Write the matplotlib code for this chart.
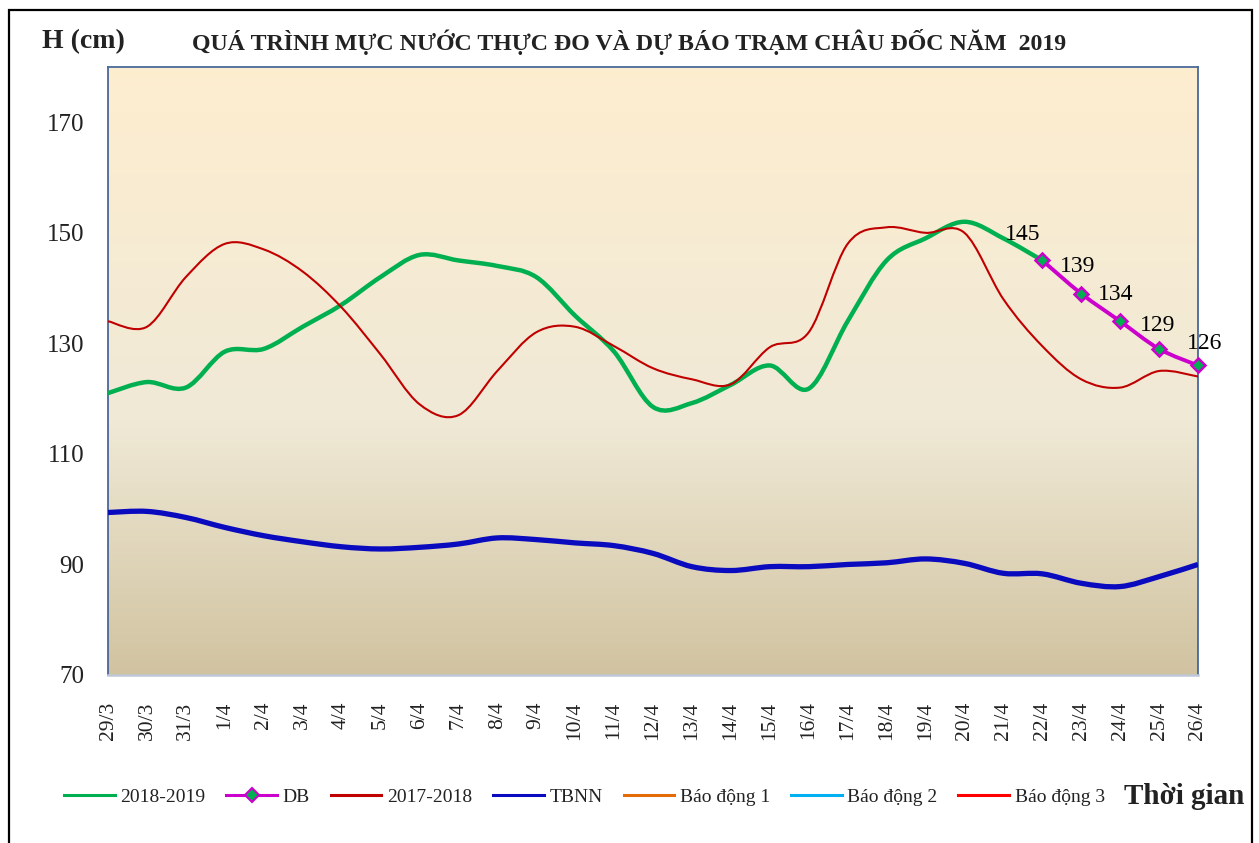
import numpy as np
import matplotlib
matplotlib.use("Agg")
import matplotlib.pyplot as plt
from matplotlib.path import Path
from matplotlib.patches import PathPatch, Rectangle
from matplotlib.lines import Line2D
from matplotlib.colors import LinearSegmentedColormap

plt.rcParams['font.family'] = ['Liberation Serif', 'DejaVu Serif']

# ---------------- data ----------------
dates = ["29/3", "30/3", "31/3", "1/4", "2/4", "3/4", "4/4", "5/4", "6/4", "7/4",
         "8/4", "9/4", "10/4", "11/4", "12/4", "13/4", "14/4", "15/4", "16/4", "17/4",
         "18/4", "19/4", "20/4", "21/4", "22/4", "23/4", "24/4", "25/4", "26/4"]

h_2018_2019 = [121, 123, 122, 128.5, 129, 133, 137, 142, 146, 145,
               144, 142, 135, 128.5, 118.5, 119.2, 122.5, 126, 121.8, 134,
               145, 149, 152, 149, 145]

db_dates = ["22/4", "23/4", "24/4", "25/4", "26/4"]
db_values = [145, 139, 134, 129, 126]

h_2017_2018 = [134, 133, 142, 148, 147, 143, 136.5, 128, 119, 117,
               125, 132, 133, 129.5, 125.5, 123.5, 122.6, 129.3, 132, 148,
               151, 150, 150, 138, 129.5, 123.5, 122, 125, 124]

tbnn = [99.4, 99.6, 98.5, 96.7, 95.2, 94.1, 93.2, 92.8, 93.1, 93.7,
        94.8, 94.5, 93.9, 93.4, 92, 89.6, 88.9, 89.6, 89.6, 90,
        90.3, 91, 90.2, 88.4, 88.3, 86.6, 86, 87.8, 90]

bao_dong_1 = 350
bao_dong_2 = 400
bao_dong_3 = 450

title = "QUÁ TRÌNH MỰC NƯỚC THỰC ĐO VÀ DỰ BÁO TRẠM CHÂU ĐỐC NĂM  2019"

# ---------------- helpers ----------------
def smooth_path(xs, ys):
    """Excel-style smoothed line as cubic Bezier path (library draws the curve)."""
    pts = np.column_stack([xs, ys]).astype(float)
    n = len(pts)
    verts = [pts[0]]
    codes = [Path.MOVETO]
    for i in range(n - 1):
        p0 = pts[i - 1] if i > 0 else pts[i]
        p1 = pts[i]
        p2 = pts[i + 1]
        p3 = pts[i + 2] if i + 2 < n else pts[i + 1]
        c1 = p1 + (p2 - p0) / 6.0
        c2 = p2 - (p3 - p1) / 6.0
        verts += [c1, c2, p2]
        codes += [Path.CURVE4] * 3
    return Path(verts, codes)

# ---------------- figure ----------------
W, H = 1259, 843
fig = plt.figure(figsize=(W / 100, H / 100), dpi=100)
fig.patch.set_facecolor('white')

# outer frame
fig.patches.append(Rectangle((9 / W, -0.02), (1252 - 9) / W, 1.02 - 10 / H,
                             transform=fig.transFigure, fill=False,
                             edgecolor='black', linewidth=1.6, zorder=0))

ax = fig.add_axes([108 / W, 1 - 675 / H, (1198 - 108) / W, (675 - 67) / H])

# background gradient
cmap = LinearSegmentedColormap.from_list(
    "bg", [(0.0, (0.82, 0.765, 0.63)), (0.42, (0.94, 0.915, 0.84)),
           (1.0, (0.995, 0.93, 0.815))])
grad = np.linspace(0, 1, 256).reshape(-1, 1)
ax.imshow(grad, extent=[0, 1, 0, 1], transform=ax.transAxes, origin='lower',
          aspect='auto', cmap=cmap, zorder=0)

x_all = np.arange(len(dates))
x_db = np.array([dates.index(d) for d in db_dates])

green = '#00B050'
magenta = '#CC00CC'
dred = '#C00000'
blue = '#0A0ABE'

ax.add_patch(PathPatch(smooth_path(x_all[:len(h_2018_2019)], h_2018_2019),
                       fill=False, edgecolor=green, linewidth=3.2,
                       capstyle='round', joinstyle='round', zorder=3))
ax.add_patch(PathPatch(smooth_path(x_db, db_values), fill=False,
                       edgecolor=magenta, linewidth=2.8, zorder=4))
ax.plot(x_db, db_values, linestyle='none', marker='D', markersize=7.5,
        markerfacecolor=green, markeredgecolor=magenta, markeredgewidth=1.8,
        zorder=5, clip_on=False)
ax.add_patch(PathPatch(smooth_path(x_all, h_2017_2018), fill=False,
                       edgecolor=dred, linewidth=1.5, zorder=4))
ax.add_patch(PathPatch(smooth_path(x_all, tbnn), fill=False,
                       edgecolor=blue, linewidth=3.8, zorder=4))

l_bd1, = ax.plot(x_all, [bao_dong_1] * len(dates), color='#E36C09', lw=1.6)
l_bd2, = ax.plot(x_all, [bao_dong_2] * len(dates), color='#00B0F0', lw=1.6)
l_bd3, = ax.plot(x_all, [bao_dong_3] * len(dates), color='#FF0000', lw=1.6)

# data labels
label_offsets = [(-20, 26), (-4, 27), (-4, 27), (-1, 23), (7, 22)]
for xv, yv, off in zip(x_db, db_values, label_offsets):
    ax.annotate(f"{yv}", (xv, yv), xytext=off, textcoords='offset pixels',
                ha='center', va='center', fontsize=17, color='black',
                zorder=6, annotation_clip=False)

ax.set_xlim(0, len(dates) - 1)
ax.set_ylim(70, 180)
ax.set_yticks([70, 90, 110, 130, 150, 170])
ax.set_xticks(x_all)
ax.set_xticklabels(dates, rotation=90, fontsize=15.5, va='top')
ax.tick_params(axis='x', length=0, pad=19, colors='#222222')
ax.tick_params(axis='y', length=0, pad=17, labelsize=18, colors='#222222')

for s in ['left', 'right']:
    ax.spines[s].set_color('#3A5C94')
    ax.spines[s].set_linewidth(1.2)
ax.spines['top'].set_color('#4A6A9A')
ax.spines['top'].set_linewidth(1.3)
ax.spines['bottom'].set_color('#BFC8D6')
ax.spines['bottom'].set_linewidth(1.8)

# titles
fig.text(42 / W, 1 - 42 / H, "H (cm)", fontsize=20, fontweight='bold',
         ha='left', va='center', color='#222222')
fig.text(629 / W, 1 - 42 / H, title, fontsize=17.2, fontweight='bold',
         ha='center', va='center', color='#222222')

# legend
handles = [
    Line2D([], [], color=green, lw=2.2),
    Line2D([], [], color=magenta, lw=2.2, marker='D', markersize=7,
           markerfacecolor=green, markeredgecolor=magenta, markeredgewidth=1.5),
    Line2D([], [], color=dred, lw=2.2),
    Line2D([], [], color=blue, lw=2.2),
    Line2D([], [], color='#E36C09', lw=2.2),
    Line2D([], [], color='#00B0F0', lw=2.2),
    Line2D([], [], color='#FF0000', lw=2.2),
]
labels = ["2018-2019", "DB", "2017-2018", "TBNN", "Báo động 1", "Báo động 2", "Báo động 3"]
fig.legend(handles, labels, loc='center left', bbox_to_anchor=(64 / W, 1 - 797 / H),
           ncol=7, frameon=False, fontsize=14, handlelength=2.6,
           handletextpad=0.3, columnspacing=1.07, borderaxespad=0, borderpad=0,
           labelcolor='#222222')
fig.text(1124 / W, 1 - 797 / H, "Thời gian", fontsize=21, fontweight='bold',
         ha='left', va='center', color='#222222')

fig.savefig("out.png", dpi=100)
